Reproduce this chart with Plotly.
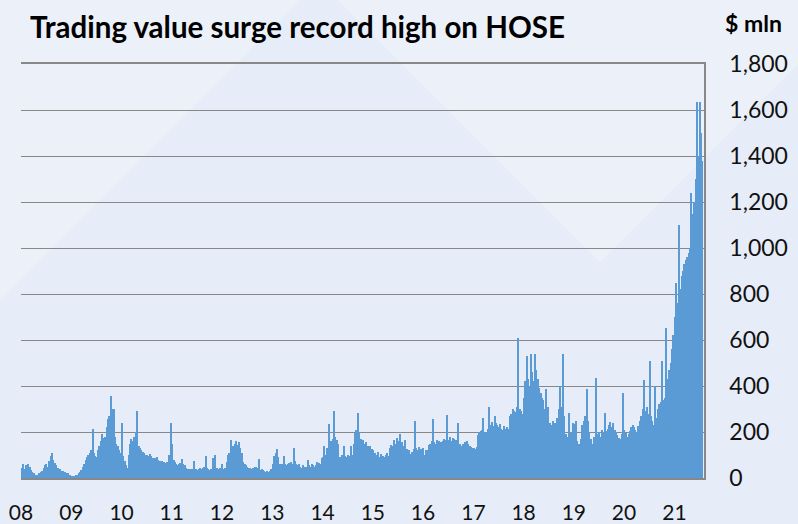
import plotly.graph_objects as go
from datetime import datetime

# Daily trading value on HOSE, $ mln in ~10-day steps (3 per month)
years = list(range(2008, 2022))
v2008 = [45,60,40, 55,40,60, 50,35,25, 20,15,12, 15,20,25, 30,45,55, 60,50,75, 95,110,80, 65,55,45, 35,40,30, 30,25,20, 20,15,12]
v2009 = [10,8,10, 12,15,20, 25,35,50, 60,80,90, 100,110,120, 215,110,95, 90,120,140, 160,190,175, 180,220,255, 270,356,300, 298,180,150, 140,120,110]
v2010 = [240,95,75, 55,45,100, 150,170,160, 180,200,290, 140,130,120, 115,110,100, 100,95,105, 95,85,80, 85,90,80, 75,70,75, 70,65,70, 65,100,240]
v2011 = [150,80,70, 60,55,60, 65,81,60, 55,45,40, 40,35,38, 40,74,40, 35,40,45, 40,45,50, 95,45,40, 35,40,87, 45,100,45, 40,45,40]
v2012 = [60,40,45, 70,100,110, 165,130,140, 150,160,145, 155,130,110, 70,60,55, 50,45,45, 40,45,50, 50,45,83, 35,40,35, 30,25,30, 25,30,40]
v2013 = [60,95,110, 125,90,60, 55,60,95, 60,55,60, 65,70,60, 130,75,60, 55,60,50, 45,55,50, 50,80,55, 50,60,55, 50,55,70, 65,60,85]
v2014 = [90,140,100, 130,233,150, 160,170,291, 180,165,150, 90,85,100, 140,95,90, 100,95,138, 100,150,195, 210,284,200, 170,160,165, 150,155,140, 120,140,125]
v2015 = [120,110,100, 115,90,85, 105,95,90, 100,110,95, 130,145,140, 165,150,175, 160,190,150, 155,140,165, 125,110,120, 105,115,125, 248,130,120, 135,125,110]
v2016 = [130,100,120, 120,145,150, 160,255,155, 150,165,160, 145,155,160, 170,165,275, 165,180,160, 175,170,165, 155,240,150, 140,150,145, 155,160,150, 140,135,130]
v2017 = [130,125,135, 185,200,205, 210,260,195, 200,215,308, 230,245,225, 270,240,230, 220,235,215, 210,225,215, 220,215,270, 280,300,290, 285,310,610, 300,290,280]
v2018 = [350,420,530, 430,400,540, 460,420,537, 470,430,390, 370,350,340, 300,385,310, 210,240,230, 250,240,235, 260,300,400, 310,537,270, 190,180,283, 170,195,240]
v2019 = [235,250,160, 150,140,170, 230,250,270, 385,250,200, 170,150,180, 160,435,190, 200,180,210, 195,283,205, 215,230,245, 220,240,210, 200,185,175, 170,190,370]
v2020 = [210,195,180, 190,205,220, 230,220,210, 200,225,250, 270,300,428, 290,310,280, 508,270,250, 230,400,260, 300,320,330, 508,340,350, 653,430,470, 500,560,620]
v2021 = [700,848,760, 1100,820,880, 900,930,950, 960,980,1000, 1240,1150,1200, 1300,1636,1400, 1636,1500,1380]
series_by_year = [v2008, v2009, v2010, v2011, v2012, v2013, v2014, v2015,
                  v2016, v2017, v2018, v2019, v2020, v2021]

year_labels = ["08", "09", "10", "11", "12", "13", "14", "15", "16", "17", "18", "19", "20", "21"]
y_ticks = [0, 200, 400, 600, 800, 1000, 1200, 1400, 1600, 1800]

# build dekad dates (3 per month)
dekad_day = [5, 15, 25]
dates, values = [], []
for yr, vals in zip(years, series_by_year):
    for i, v in enumerate(vals):
        dates.append(datetime(yr, i // 3 + 1, dekad_day[i % 3], 12))
        values.append(v)

W, H = 798, 524
L, R, T, B = 21, 704, 64, 478

def px(x, y):
    return (x - L) / (R - L), (B - y) / (B - T)

fig = go.Figure()
fig.add_trace(go.Bar(
    x=dates, y=values,
    width=10.2 * 86400000,
    marker=dict(color="#5b9bd5", line=dict(width=0)),
    hoverinfo="x+y",
))

# subtle background facets
def poly(pts, color):
    p = [px(a, b) for a, b in pts]
    path = "M " + " L ".join(f"{a:.4f},{b:.4f}" for a, b in p) + " Z"
    fig.add_shape(type="path", path=path, xref="paper", yref="paper",
                  fillcolor=color, line=dict(width=0), layer="below")

poly([(338, 0), (600, 262), (798, 64), (798, 0)], "#ecf1f9")
poly([(0, 0), (300, 0), (0, 300)], "#ebf0f9")

grid = "#888888"
fig.update_layout(
    width=W, height=H,
    margin=dict(l=L, r=W - R, t=T, b=H - B, autoexpand=False),
    paper_bgcolor="#e7edf8",
    plot_bgcolor="rgba(0,0,0,0)",
    showlegend=False,
    bargap=0,
    font=dict(family="Lato", color="#111111"),
    title=dict(
        text="<b>Trading value surge record high on HOSE</b>",
        x=30 / W, xanchor="left", y=1 - 28 / H, yanchor="middle",
        font=dict(family="Lato", size=29.5, color="#000000"),
    ),
    xaxis=dict(
        type="date",
        automargin=False,
        range=["2008-01-01", "2021-08-04"],
        tickvals=[f"{y}-01-01" for y in years],
        ticktext=year_labels,
        showgrid=False, zeroline=False,
        showline=True, mirror=True, linecolor=grid, linewidth=1.5,
        ticks="", ticklabelstandoff=15,
        tickfont=dict(family="Lato", size=21, color="#111111"),
    ),
    yaxis=dict(
        side="right",
        automargin=False,
        range=[0, 1800],
        tickvals=y_ticks,
        tickformat=",d",
        showgrid=True, gridcolor=grid, gridwidth=1.4,
        zeroline=False,
        showline=True, linecolor=grid, linewidth=1.5,
        ticks="", ticklabelstandoff=19,
        tickfont=dict(family="Lato", size=23, color="#111111"),
    ),
)
fig.add_annotation(
    text="<b>$ mln</b>", xref="paper", yref="paper",
    x=px(723, 0)[0], y=px(0, 23)[1], xanchor="left", yanchor="middle",
    showarrow=False, font=dict(family="Lato", size=23, color="#000000"),
)
fig.write_html("out.html",
               config={"displayModeBar": False},
               post_script="document.body.style.margin='0';document.body.style.overflow='hidden';")
